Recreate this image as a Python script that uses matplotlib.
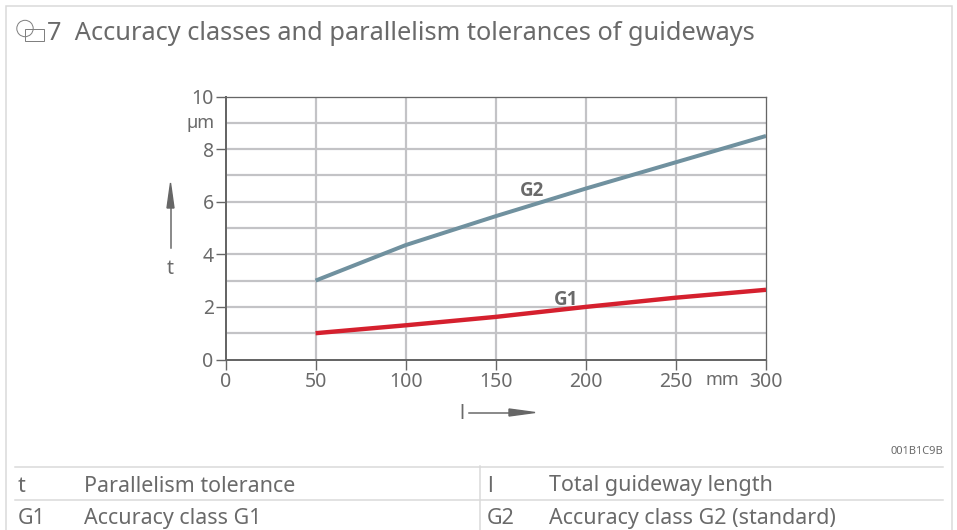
import matplotlib
matplotlib.use("Agg")
import matplotlib.pyplot as plt
from matplotlib.patches import Circle, Rectangle, Polygon

plt.rcParams['font.family'] = ['Noto Sans', 'DejaVu Sans']

lengths = [50, 100, 150, 200, 250, 300]
g1 = [1.0, 1.3, 1.62, 2.0, 2.35, 2.65]
g2 = [3.0, 4.35, 5.45, 6.5, 7.5, 8.5]
x_ticks = [0, 50, 100, 150, 200, 250, 300]
y_ticks = [0, 2, 4, 6, 8, 10]
title = "7  Accuracy classes and parallelism tolerances of guideways"
legend_rows = [("t", "Parallelism tolerance", "l", "Total guideway length"),
               ("G1", "Accuracy class G1", "G2", "Accuracy class G2 (standard)")]

W, H = 957, 530
DPI = 100
fig = plt.figure(figsize=(W / DPI, H / DPI), dpi=DPI, facecolor='white')

TXT = '#6a6a6a'
GRID = '#c3c3c6'
AX = '#666666'
PT = 72 / DPI

# page overlay in pixel coordinates
pg = fig.add_axes([0, 0, 1, 1], zorder=0)
pg.set_xlim(0, W); pg.set_ylim(H, 0); pg.axis('off')
FRAME = '#d9d9d9'
pg.plot([5.5, 5.5, 951.5, 951.5], [530, 5.5, 5.5, 530], color=FRAME, lw=1.5 * PT, solid_joinstyle='miter')
pg.plot([15, 943], [466.5, 466.5], color=FRAME, lw=1.5 * PT)
pg.plot([15, 943], [499.5, 499.5], color=FRAME, lw=1.5 * PT)
pg.plot([479.5, 479.5], [466, 530], color=FRAME, lw=1.5 * PT)

# title & icon
pg.add_patch(Circle((25, 28.5), 8.2, fill=False, ec='#808080', lw=1 * PT))
pg.add_patch(Rectangle((24.5, 28.5), 19.5, 12.5, fill=False, ec='#808080', lw=1 * PT))
pg.text(47, 33, title, fontsize=18.25, color=TXT, va='center', ha='left')

pg.text(943, 451, "001B1C9B", fontsize=8, color=TXT, va='center', ha='right')
for (a, b, c, d), y in zip(legend_rows, [486, 518.5]):
    pg.text(18, y, a, fontsize=15.45, color=TXT, va='center')
    pg.text(84.5, y, b, fontsize=15.45, color=TXT, va='center')
    pg.text(487, y, c, fontsize=15.45, color=TXT, va='center')
    pg.text(549, y, d, fontsize=15.45, color=TXT, va='center')

# arrows & axis symbols
pg.plot([170.5, 170.5], [248, 205], color=AX, lw=1.5 * PT)
pg.add_patch(Polygon([[170.5, 183], [167, 208], [174, 208]], color=AX))
pg.text(170.5, 269, "t", fontsize=14, color=TXT, ha='center', va='center')
pg.plot([469, 512], [412.5, 412.5], color=AX, lw=1.5 * PT)
pg.add_patch(Polygon([[535, 412.5], [509, 409], [509, 416]], color=AX))
pg.text(461.5, 414, "l", fontsize=14, color=TXT, ha='center', va='center')

# chart
x0, x1, y_top, y_bot = 225.5, 766, 96.5, 359.5
ax = fig.add_axes([x0 / W, 1 - y_bot / H, (x1 - x0) / W, (y_bot - y_top) / H], zorder=1)
ax.patch.set_alpha(0)
ax.set_xlim(0, 300); ax.set_ylim(0, 10)
ax.set_xticks(x_ticks)
ax.set_yticks(y_ticks)
ax.set_yticks([9.08], minor=True)
ax.set_yticklabels([str(v) for v in y_ticks])
ax.set_yticklabels(["µm"], minor=True)
ax.set_xticklabels([str(v) for v in x_ticks])
for v in range(1, 10):
    ax.axhline(v, color=GRID, lw=2.2 * PT, zorder=1)
for v in x_ticks[1:-1]:
    ax.axvline(v, color=GRID, lw=2.2 * PT, zorder=1)
ax.tick_params(axis='both', which='major', length=7, width=1.4 * PT, color=AX,
               labelcolor=TXT, labelsize=14, pad=1.5)
ax.tick_params(axis='y', which='minor', length=0, labelcolor=TXT, labelsize=13, pad=7.5)
ax.tick_params(axis='x', pad=2)
for s in ax.spines.values():
    s.set_color(AX); s.set_linewidth(1.3 * PT)
ax.spines['left'].set_linewidth(2 * PT)
ax.spines['bottom'].set_linewidth(2 * PT)

ax.plot(lengths, g2, color='#70919f', lw=4 * PT, zorder=3, solid_capstyle='butt')
ax.plot(lengths, g1, color='#d5202e', lw=4.4 * PT, zorder=3, solid_capstyle='butt')
ax.text(170, 6.4, "G2", family='Open Sans', fontsize=13.5, fontweight='bold', color=TXT, ha='center', va='center', zorder=4)
ax.text(189, 2.27, "G1", family='Open Sans', fontsize=13.5, fontweight='bold', color=TXT, ha='center', va='center', zorder=4)
ax.text(276, -0.79, "mm", fontsize=13, color=TXT, ha='center', va='center', clip_on=False)

fig.savefig("out.png", dpi=DPI, facecolor='white')
